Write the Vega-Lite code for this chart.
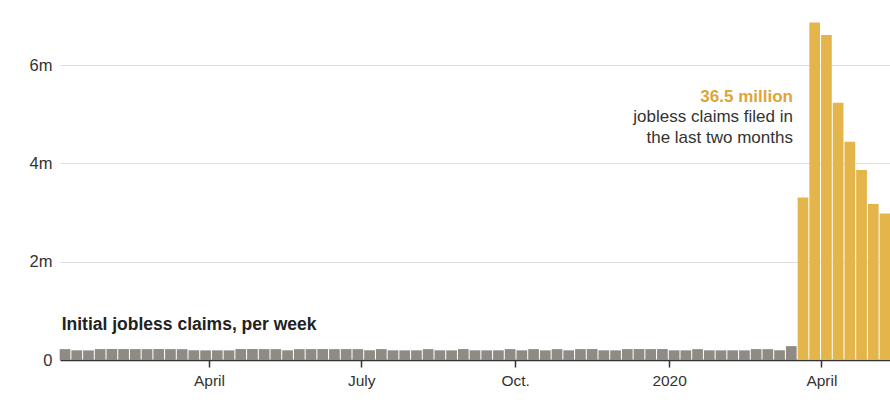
{
  "$schema": "https://vega.github.io/schema/vega-lite/v6.json",
  "width": 830,
  "height": 344,
  "autosize": {"type": "none"},
  "padding": {"left": 60, "top": 16, "right": 0, "bottom": 49},
  "background": "white",
  "config": {"view": {"stroke": null}, "font": "Liberation Sans"},
  "datasets": {
    "claims": [
      {"week": "2019/01/05", "claims": 221000},
      {"week": "2019/01/12", "claims": 197000},
      {"week": "2019/01/19", "claims": 195000},
      {"week": "2019/01/26", "claims": 222000},
      {"week": "2019/02/02", "claims": 224000},
      {"week": "2019/02/09", "claims": 223000},
      {"week": "2019/02/16", "claims": 222000},
      {"week": "2019/02/23", "claims": 221000},
      {"week": "2019/03/02", "claims": 223000},
      {"week": "2019/03/09", "claims": 222000},
      {"week": "2019/03/16", "claims": 221000},
      {"week": "2019/03/23", "claims": 198000},
      {"week": "2019/03/30", "claims": 196000},
      {"week": "2019/04/06", "claims": 197000},
      {"week": "2019/04/13", "claims": 196000},
      {"week": "2019/04/20", "claims": 223000},
      {"week": "2019/04/27", "claims": 224000},
      {"week": "2019/05/04", "claims": 222000},
      {"week": "2019/05/11", "claims": 221000},
      {"week": "2019/05/18", "claims": 197000},
      {"week": "2019/05/25", "claims": 221000},
      {"week": "2019/06/01", "claims": 222000},
      {"week": "2019/06/08", "claims": 223000},
      {"week": "2019/06/15", "claims": 221000},
      {"week": "2019/06/22", "claims": 222000},
      {"week": "2019/06/29", "claims": 221000},
      {"week": "2019/07/06", "claims": 198000},
      {"week": "2019/07/13", "claims": 222000},
      {"week": "2019/07/20", "claims": 197000},
      {"week": "2019/07/27", "claims": 196000},
      {"week": "2019/08/03", "claims": 197000},
      {"week": "2019/08/10", "claims": 221000},
      {"week": "2019/08/17", "claims": 197000},
      {"week": "2019/08/24", "claims": 196000},
      {"week": "2019/08/31", "claims": 222000},
      {"week": "2019/09/07", "claims": 197000},
      {"week": "2019/09/14", "claims": 196000},
      {"week": "2019/09/21", "claims": 197000},
      {"week": "2019/09/28", "claims": 222000},
      {"week": "2019/10/05", "claims": 197000},
      {"week": "2019/10/12", "claims": 222000},
      {"week": "2019/10/19", "claims": 196000},
      {"week": "2019/10/26", "claims": 221000},
      {"week": "2019/11/02", "claims": 197000},
      {"week": "2019/11/09", "claims": 222000},
      {"week": "2019/11/16", "claims": 223000},
      {"week": "2019/11/23", "claims": 197000},
      {"week": "2019/11/30", "claims": 196000},
      {"week": "2019/12/07", "claims": 222000},
      {"week": "2019/12/14", "claims": 223000},
      {"week": "2019/12/21", "claims": 222000},
      {"week": "2019/12/28", "claims": 223000},
      {"week": "2020/01/04", "claims": 197000},
      {"week": "2020/01/11", "claims": 196000},
      {"week": "2020/01/18", "claims": 221000},
      {"week": "2020/01/25", "claims": 197000},
      {"week": "2020/02/01", "claims": 196000},
      {"week": "2020/02/08", "claims": 197000},
      {"week": "2020/02/15", "claims": 196000},
      {"week": "2020/02/22", "claims": 222000},
      {"week": "2020/02/29", "claims": 221000},
      {"week": "2020/03/07", "claims": 198000},
      {"week": "2020/03/14", "claims": 282000},
      {"week": "2020/03/21", "claims": 3307000},
      {"week": "2020/03/28", "claims": 6867000},
      {"week": "2020/04/04", "claims": 6615000},
      {"week": "2020/04/11", "claims": 5237000},
      {"week": "2020/04/18", "claims": 4442000},
      {"week": "2020/04/25", "claims": 3867000},
      {"week": "2020/05/02", "claims": 3176000},
      {"week": "2020/05/09", "claims": 2981000}
    ],
    "title": [
      {"week": "2019/01/03", "claims": 610000, "label": "Initial jobless claims, per week"}
    ],
    "total": [
      {"week": "2020/03/15", "claims": 5240000, "label": "36.5 million"}
    ],
    "note": [
      {"week": "2020/03/15", "claims": 4837000, "label": "jobless claims filed in"},
      {"week": "2020/03/15", "claims": 4410000, "label": "the last two months"}
    ]
  },
  "layer": [
    {
      "data": {"name": "claims"},
      "mark": {"type": "bar", "width": 10.7},
      "encoding": {
        "x": {
          "field": "week",
          "type": "temporal",
          "scale": {"domain": [{"year": 2019, "month": 1, "date": 2}, {"year": 2020, "month": 5, "date": 12}], "nice": false, "padding": 0},
          "axis": {
            "title": null,
            "grid": false,
            "values": [
              {"year": 2019, "month": 4, "date": 1},
              {"year": 2019, "month": 7, "date": 1},
              {"year": 2019, "month": 10, "date": 1},
              {"year": 2020, "month": 1, "date": 1},
              {"year": 2020, "month": 4, "date": 1}
            ],
            "labelExpr": "month(datum.value) == 0 ? timeFormat(datum.value, '%Y') : month(datum.value) == 3 ? 'April' : month(datum.value) == 6 ? 'July' : 'Oct.'",
            "domainColor": "#333333",
            "domainWidth": 1.6,
            "tickColor": "#333333",
            "tickWidth": 1.5,
            "tickSize": 7,
            "labelFontSize": 15.5,
            "labelColor": "#333333",
            "labelPadding": 6,
            "labelFlush": false,
            "labelOverlap": false
          }
        },
        "y": {
          "field": "claims",
          "type": "quantitative",
          "scale": {"domain": [0, 7000000], "nice": false},
          "axis": {
            "title": null,
            "values": [0, 2000000, 4000000, 6000000],
            "labelExpr": "datum.value == 0 ? '0' : (datum.value / 1000000) + 'm'",
            "domain": false,
            "ticks": false,
            "grid": true,
            "gridColor": "#dedede",
            "gridWidth": 1,
            "labelPadding": 8,
            "labelFontSize": 16.5,
            "labelColor": "#333333"
          }
        },
        "color": {
          "condition": {"test": "datum.week > datetime(2020, 2, 15)", "value": "#e3b54b"},
          "value": "#8f8a84"
        }
      }
    },
    {
      "data": {"name": "title"},
      "mark": {"type": "text", "align": "left", "baseline": "alphabetic", "fontSize": 17.5, "fontWeight": "bold", "color": "#222222"},
      "encoding": {
        "x": {"field": "week", "type": "temporal"},
        "y": {"field": "claims", "type": "quantitative"},
        "text": {"field": "label"}
      }
    },
    {
      "data": {"name": "total"},
      "mark": {"type": "text", "align": "right", "baseline": "alphabetic", "fontSize": 17, "fontWeight": "bold", "color": "#dca537"},
      "encoding": {
        "x": {"field": "week", "type": "temporal"},
        "y": {"field": "claims", "type": "quantitative"},
        "text": {"field": "label"}
      }
    },
    {
      "data": {"name": "note"},
      "mark": {"type": "text", "align": "right", "baseline": "alphabetic", "fontSize": 17, "color": "#333333"},
      "encoding": {
        "x": {"field": "week", "type": "temporal"},
        "y": {"field": "claims", "type": "quantitative"},
        "text": {"field": "label"}
      }
    }
  ]
}
